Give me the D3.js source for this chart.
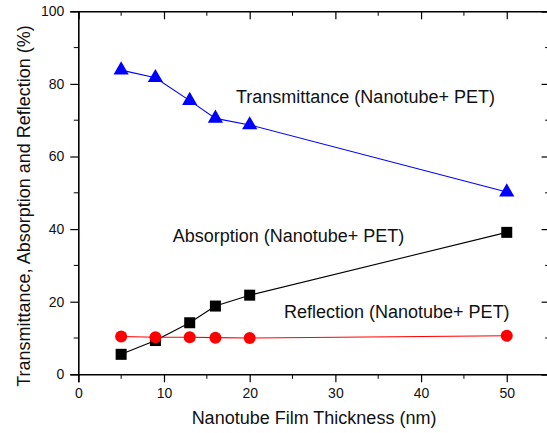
<!DOCTYPE html>
<html>
<head>
<meta charset="utf-8">
<script src="https://cdn.jsdelivr.net/npm/d3@7"></script>
<style>
  body { margin: 0; background: #fff; }
  svg { display: block; font-family: Arial, "Liberation Sans", sans-serif; }
</style>
</head>
<body>
<svg id="chart" width="547" height="433"></svg>
<script>
// thickness in nm
const thickness = [5, 9, 13, 16, 20, 50];
const transmittance = [83.8, 81.7, 75.4, 70.5, 68.7, 50.2];
const absorption = [5.5, 9.3, 14.2, 18.8, 21.8, 39.1];
const reflection = [10.4, 10.2, 10.2, 10.1, 10.0, 10.6];

const xTicks = [0, 10, 20, 30, 40, 50];
const yTicks = [0, 20, 40, 60, 80, 100];

const seriesLabels = [
  "Transmittance (Nanotube+ PET)",
  "Absorption (Nanotube+ PET)",
  "Reflection (Nanotube+ PET)"
];

const svg = d3.select('#chart');

const x = d3.scaleLinear().domain([0, 55]).range([78.3, 549.6]);
const y = d3.scaleLinear().domain([0, 100]).range([374.3, 11.3]);

const minorX = d3.range(0, 56, 5).filter(d => d % 10 !== 0);
const minorY = d3.range(0, 101, 10).filter(d => d % 20 !== 0);

const fontStack = 'Arial, "Liberation Sans", sans-serif';

// bottom axis, ticks outward
const gBottom = svg.append('g').attr('transform', 'translate(0,' + y(0) + ')');
gBottom.call(d3.axisBottom(x).tickValues(xTicks).tickSize(8).tickPadding(6).tickFormat(d3.format('d')));
gBottom.append('g').selectAll('line').data(minorX).join('line')
  .attr('x1', d => x(d)).attr('x2', d => x(d))
  .attr('y1', 0).attr('y2', 4.5)
  .attr('stroke', '#000');

// left axis, ticks outward
const gLeft = svg.append('g').attr('transform', 'translate(' + x(0) + ',0)');
gLeft.call(d3.axisLeft(y).tickValues(yTicks).tickSize(8).tickPadding(6).tickFormat(d3.format('d')));
gLeft.append('g').selectAll('line').data(minorY).join('line')
  .attr('y1', d => y(d)).attr('y2', d => y(d))
  .attr('x1', 0).attr('x2', -4.5)
  .attr('stroke', '#000');

// top axis, ticks inward, no labels
const gTop = svg.append('g').attr('transform', 'translate(0,' + y(100) + ')');
gTop.call(d3.axisTop(x).tickValues(xTicks).tickSize(-8).tickFormat(''));
gTop.append('g').selectAll('line').data(minorX).join('line')
  .attr('x1', d => x(d)).attr('x2', d => x(d))
  .attr('y1', 0).attr('y2', 4.5)
  .attr('stroke', '#000');

// right axis, ticks inward, no labels
const gRight = svg.append('g').attr('transform', 'translate(' + x(55) + ',0)');
gRight.call(d3.axisRight(y).tickValues(yTicks).tickSize(-8).tickFormat(''));
gRight.append('g').selectAll('line').data(minorY).join('line')
  .attr('y1', d => y(d)).attr('y2', d => y(d))
  .attr('x1', 0).attr('x2', -4.5)
  .attr('stroke', '#000');

svg.selectAll('.domain').attr('stroke', '#000').attr('stroke-width', 1.6);
svg.selectAll('.tick line').attr('stroke', '#000').attr('stroke-width', 1.2);
svg.selectAll('.tick text').attr('font-size', 14).attr('fill', '#111')
  .attr('font-family', fontStack);

const line = d3.line()
  .x((d, i) => x(thickness[i]))
  .y(d => y(d));

function drawSeries(values, color) {
  svg.append('path')
    .datum(values)
    .attr('d', line)
    .attr('fill', 'none')
    .attr('stroke', color)
    .attr('stroke-width', 1.1);
}

drawSeries(transmittance, '#0000ff');
drawSeries(absorption, '#000000');
drawSeries(reflection, '#ff0000');

// markers
svg.append('g').selectAll('path').data(transmittance).join('path')
  .attr('transform', (d, i) => 'translate(' + x(thickness[i]) + ',' + y(d) + ')')
  .attr('d', d3.symbol(d3.symbolTriangle, 100))
  .attr('fill', '#0000ff');

svg.append('g').selectAll('rect').data(absorption).join('rect')
  .attr('x', (d, i) => x(thickness[i]) - 5.5)
  .attr('y', d => y(d) - 5.5)
  .attr('width', 11).attr('height', 11)
  .attr('fill', '#000');

svg.append('g').selectAll('circle').data(reflection).join('circle')
  .attr('cx', (d, i) => x(thickness[i]))
  .attr('cy', d => y(d))
  .attr('r', 6)
  .attr('fill', '#ff0000');

// series labels
const labelPos = [[236, 102.7], [172.7, 241.7], [284, 318.3]];
svg.append('g').selectAll('text').data(seriesLabels).join('text')
  .attr('x', (d, i) => labelPos[i][0])
  .attr('y', (d, i) => labelPos[i][1])
  .attr('font-size', 18)
  .attr('fill', '#111')
  .text(d => d);

// axis titles
svg.append('text')
  .attr('x', 314).attr('y', 424)
  .attr('text-anchor', 'middle')
  .attr('font-size', 18)
  .attr('fill', '#111')
  .text('Nanotube Film Thickness (nm)');

svg.append('text')
  .attr('transform', 'translate(30,206) rotate(-90)')
  .attr('text-anchor', 'middle')
  .attr('font-size', 18)
  .attr('fill', '#111')
  .text('Transmittance, Absorption and Reflection (%)');
</script>
</body>
</html>
